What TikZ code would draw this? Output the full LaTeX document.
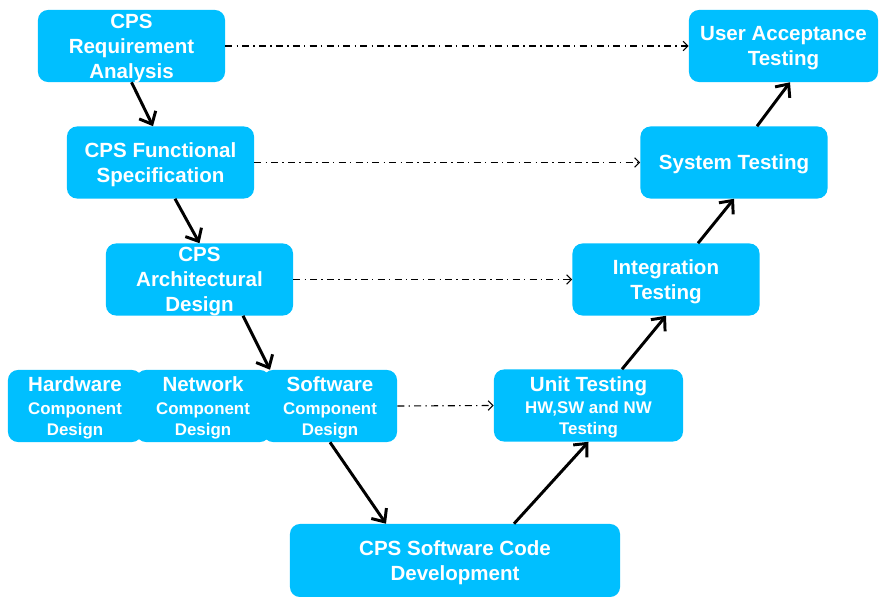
\documentclass[tikz,border=0pt]{standalone}
\usepackage{fontspec}
\setmainfont{Liberation Sans}
\usetikzlibrary{arrows.meta,calc}
\definecolor{vblue}{HTML}{00BFFF}
\newcommand{\sm}{\fontsize{12}{14.9}\selectfont}

\begin{document}
\begin{tikzpicture}[x=0.025cm,y=-0.025cm,
  box/.style={fill=vblue, rounded corners=0.25cm, text=white, align=center,
    font=\fontsize{14.6}{17.7}\selectfont\bfseries, inner sep=0pt, text depth=-1pt,
    minimum width=4.675cm, minimum height=1.8cm},
  part/.style={box, minimum width=3.35cm},
  flow/.style={line width=2.1pt, -{Straight Barb[length=2.6mm,width=4.6mm,line width=2.1pt]}},
  link/.style={line width=0.8pt, dash pattern=on 5pt off 3pt on 1pt off 3pt,
    -{Straight Barb[length=1.2mm,width=2.4mm,line width=0.8pt]}}]
\useasboundingbox (0,0) rectangle (880,597);
\node [box] (req) at (131.5,46) {CPS\\Requirement\\Analysis};
\node [box] (func) at (160.5,162.5) {CPS Functional\\Specification};
\node [box] (arch) at (199.5,279.5) {CPS\\Architectural\\Design};
\node [part] (hw) at (75,406) {Hardware\\[-1.4pt]\sm Component\\[-2.8pt]\sm Design};
\node [part] (nw) at (203,406) {Network\\[-1.4pt]\sm Component\\[-2.8pt]\sm Design};
\node [part] (sw) at (330,406) {Software\\[-1.4pt]\sm Component\\[-2.8pt]\sm Design};
\node [box, minimum width=8.25cm, minimum height=1.825cm] (code) at (455,560.5) {CPS Software Code\\Development};
\node [box, minimum width=4.725cm] (unit) at (588.5,405.5) {Unit Testing\\[-1.4pt]\sm HW,SW and NW\\[-2.8pt]\sm Testing};
\node [box] (integ) at (666,279.5) {Integration\\Testing};
\node [box] (sys) at (734,162.5) {System Testing};
\node [box, minimum width=4.725cm] (uat) at (783.5,46) {User Acceptance\\Testing};
\draw [flow] (req.south) -- ($(func.north)+(-7.5,0)$);
\draw [flow] ($(func.south)+(14.5,0)$) -- (arch.north);
\draw [flow] ($(arch.south)+(43.5,0)$) -- ($(sw.north)+(-60,0)$);
\draw [flow] (sw.south) -- ($(code.north)+(-69,0)$);
\draw [flow] ($(code.north)+(59,0)$) -- (unit.south);
\draw [flow] ($(unit.north)+(33.5,0)$) -- (integ.south);
\draw [flow] ($(integ.north)+(32,0)$) -- (sys.south);
\draw [flow] ($(sys.north)+(23,0)$) -- ($(uat.south)+(6.5,0)$);
\draw [link] (req.east) -- (uat.west);
\draw [link] (func.east) -- (sys.west);
\draw [link] (arch.east) -- (integ.west);
\draw [link] (sw.east) -- (unit.west);
\end{tikzpicture}
\end{document}
